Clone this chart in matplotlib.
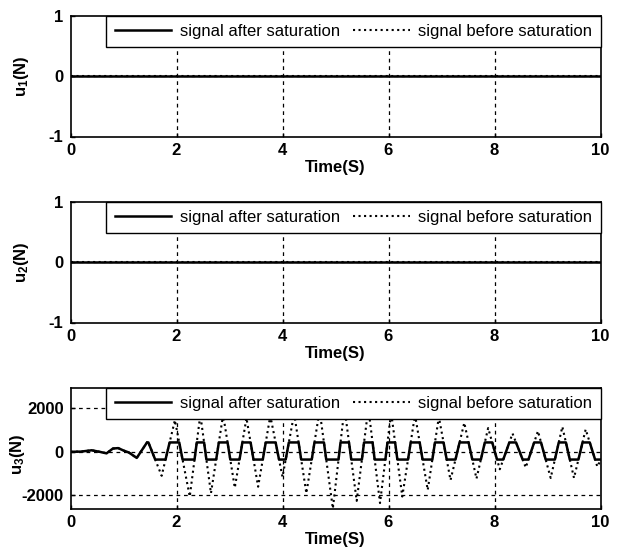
import numpy as np
import matplotlib
matplotlib.use("Agg")
import matplotlib.pyplot as plt

plt.rcParams['font.family'] = ['Liberation Sans', 'DejaVu Sans']
plt.rcParams['mathtext.fontset'] = 'custom'
plt.rcParams['mathtext.rm'] = 'Liberation Sans:bold'
plt.rcParams['mathtext.default'] = 'rm'
plt.rcParams['axes.unicode_minus'] = False

# time range and labels
T_END = 10
xticks = [0, 2, 4, 6, 8, 10]
ylabels = ['u$_1$(N)', 'u$_2$(N)', 'u$_3$(N)']
legend_labels = ['signal after saturation', 'signal before saturation']

# u1 and u2 stay at zero the whole time
t_flat = [0, 10]
u1 = [0, 0]
u2 = [0, 0]

# u3 before saturation, read at peaks / troughs
t3 = [0.0, 0.2, 0.4, 0.55, 0.68, 0.8, 0.9, 1.0, 1.1, 1.25, 1.46, 1.72,
      1.97, 2.25, 2.45, 2.65, 2.88, 3.10, 3.32, 3.54, 3.77, 4.00, 4.22,
      4.45, 4.70, 4.95, 5.17, 5.40, 5.62, 5.84, 6.05, 6.26, 6.50, 6.74,
      6.95, 7.17, 7.43, 7.66, 7.88, 8.10, 8.34, 8.59, 8.82, 9.06, 9.28,
      9.50, 9.72, 9.94, 10.0]
u3_before = [0, 10, 70, 0, -70, 150, 170, 60, -30, -280, 490, -1100,
             1450, -2050, 1700, -1900, 1700, -1650, 1550, -1600, 1650, -1150, 1750,
             -1900, 1900, -2600, 2000, -2250, 2000, -2350, 1800, -2050, 1700, -1750,
             1600, -1300, 1330, -1230, 1090, -800, 840, -720, 950, -1200, 1150,
             -1200, 1030, -680, -400]
u3_hi = 430    # saturation limits
u3_lo = -355


def saturate(t, u, lo, hi):
    """Clip a polyline to [lo, hi], adding the crossing points."""
    ts = [t[0]]
    us = [min(max(u[0], lo), hi)]
    for i in range(1, len(t)):
        t0, v0, t1, v1 = t[i - 1], u[i - 1], t[i], u[i]
        cross = []
        for lim in (lo, hi):
            if (v0 - lim) * (v1 - lim) < 0:
                cross.append(((lim - v0) / (v1 - v0), lim))
        for f, lim in sorted(cross):
            ts.append(t0 + f * (t1 - t0))
            us.append(lim)
        ts.append(t1)
        us.append(min(max(v1, lo), hi))
    return ts, us


t3_after, u3_after = saturate(t3, u3_before, u3_lo, u3_hi)

fig = plt.figure(figsize=(6.17, 5.59), dpi=100)
# axes boxes in pixels (left, top, right, bottom), measured on the reference
boxes = [(70.5, 15.5, 600.5, 136.5), (70.5, 201.5, 600.5, 322.5),
         (70.5, 387.5, 600.5, 508.5)]

series = [(t_flat, u1, t_flat, u1), (t_flat, u2, t_flat, u2),
          (t3_after, u3_after, t3, u3_before)]
ylims = [(-1, 1), (-1, 1), (-2600, 2950)]
yticks = [[-1, 0, 1], [-1, 0, 1], [-2000, 0, 2000]]
ylab_pos = [(-0.074, 0.5), (-0.074, 0.5), (-0.083, 0.45)]

W, H = 617, 559
grid_kw = dict(color='black', ls=(0, (3, 3)), lw=0.9, zorder=1)
for k in range(3):
    x0, y0, x1, y1 = boxes[k]
    ax = fig.add_axes([x0 / W, 1 - y1 / H, (x1 - x0) / W, (y1 - y0) / H])
    ta, ua, tb, ub = series[k]
    ax.plot(ta, ua, color='black', lw=1.8, label=legend_labels[0])
    ax.plot(tb, ub, color='black', lw=1.5, ls=':', label=legend_labels[1])
    ax.set_xlim(0, T_END)
    ax.set_ylim(*ylims[k])
    ax.set_xticks(xticks)
    ax.set_yticks(yticks[k])
    # dashed grid, only inside the box
    lo_y, hi_y = ylims[k]
    for x in xticks:
        if 0 < x < T_END:
            ax.axvline(x, **grid_kw)
    for y in yticks[k]:
        if lo_y < y < hi_y:
            ax.axhline(y, **grid_kw)
    for sp in ax.spines.values():
        sp.set_linewidth(1.2)
        sp.set_color('black')
    ax.tick_params(direction='in', length=3, width=1, labelsize=12, pad=5)
    for lab in ax.get_xticklabels() + ax.get_yticklabels():
        lab.set_fontweight('bold')
    ax.set_xlabel('Time(S)', fontsize=12, fontweight='bold', labelpad=1)
    ax.set_ylabel(ylabels[k], fontsize=12, fontweight='bold')
    ax.yaxis.set_label_coords(*ylab_pos[k])
    leg = ax.legend(loc='upper right', bbox_to_anchor=(1, 1), ncol=2,
                    borderaxespad=0, fancybox=False, framealpha=1,
                    edgecolor='black', fontsize=12, handlelength=3.4,
                    handletextpad=0.5, columnspacing=0.8, borderpad=0.5)
    leg.get_frame().set_linewidth(1.0)

fig.savefig('out.png', dpi=100)
